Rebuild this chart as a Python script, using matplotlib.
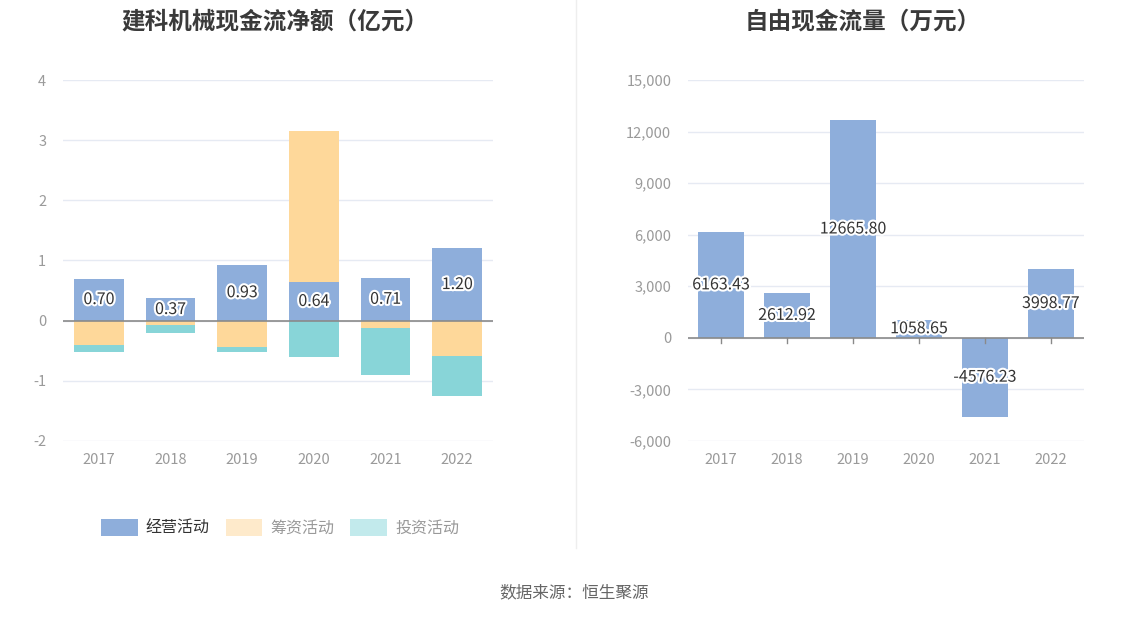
import numpy as np
import matplotlib.pyplot as plt
import matplotlib.patheffects as pe
from matplotlib.patches import Patch

plt.rcParams['font.family'] = ['Noto Sans CJK SC', 'DejaVu Sans']
plt.rcParams['axes.unicode_minus'] = False

# data
years = ["2017", "2018", "2019", "2020", "2021", "2022"]
operating = [0.70, 0.37, 0.93, 0.64, 0.71, 1.20]
financing = [-0.41, -0.07, -0.43, 2.52, -0.12, -0.58]
investing = [-0.11, -0.14, -0.09, -0.60, -0.79, -0.68]
free_cf = [6163.43, 2612.92, 12665.80, 1058.65, -4576.23, 3998.77]

c_op = "#8eaedb"
c_fin = "#fed89a"
c_inv = "#88d5d8"
grid_c = "#e6eaf3"
tick_c = "#9a9a9a"
outline = [pe.withStroke(linewidth=3, foreground="white")]

fig = plt.figure(figsize=(11.48, 6.19), dpi=100)

# left chart: stacked net cash flow
ax1 = fig.add_axes([63 / 1148, 1 - 441 / 619, 430 / 1148, 361 / 619])
x = np.arange(len(years))
w = 0.69
op = np.array(operating)
fin = np.array(financing)
inv = np.array(investing)
pos_base = np.where(op > 0, op, 0)
neg_base = np.where(op < 0, op, 0)
fin_bottom = np.where(fin >= 0, pos_base, neg_base)
pos_base = pos_base + np.where(fin > 0, fin, 0)
neg_base = neg_base + np.where(fin < 0, fin, 0)
inv_bottom = np.where(inv >= 0, pos_base, neg_base)

ax1.bar(x, op, w, color=c_op, zorder=2)
ax1.bar(x, fin, w, bottom=fin_bottom, color=c_fin, zorder=2)
ax1.bar(x, inv, w, bottom=inv_bottom, color=c_inv, zorder=2)
for xi, v in zip(x, op):
    ax1.text(xi, v / 2, f"{v:.2f}", ha="center", va="center", fontsize=11.5,
             color="#333333", path_effects=outline, zorder=4)

ax1.set_xlim(-0.5, 5.5)
ax1.set_ylim(-2, 4)
ax1.set_yticks(range(-2, 5))
ax1.set_xticks(x)
ax1.set_xticklabels(years)
ax1.axhline(0, color="#8a8a8a", linewidth=1.2, zorder=3)
ax1.grid(axis="y", color=grid_c, linewidth=1, zorder=0)
ax1.tick_params(length=0, colors=tick_c, labelsize=10.5)
ax1.tick_params(axis="x", pad=9)
ax1.tick_params(axis="y", pad=12)
for s in ax1.spines.values():
    s.set_visible(False)
ax1.set_title("建科机械现金流净额（亿元）", fontsize=17, fontweight="bold",
              color="#3a3a3a", x=(275 - 63) / 430, y=1, pad=37)

handles = [Patch(facecolor=c_op, edgecolor="none"),
           Patch(facecolor="#feeacb", edgecolor="none"),
           Patch(facecolor="#c2eaec", edgecolor="none")]
leg = fig.legend(handles, ["经营活动", "筹资活动", "投资活动"], loc="center",
                 bbox_to_anchor=(280 / 1148, 1 - 528 / 619), ncol=3, frameon=False,
                 fontsize=11.5, handlelength=2.3, handleheight=1.2, columnspacing=1.0,
                 handletextpad=0.5)
for t, c in zip(leg.get_texts(), ["#333333", "#999999", "#999999"]):
    t.set_color(c)

# right chart: free cash flow
ax2 = fig.add_axes([688 / 1148, 1 - 441 / 619, 396 / 1148, 361 / 619])
ax2.bar(x, free_cf, w, color=c_op, zorder=2)
for xi, v in zip(x, free_cf):
    ax2.text(xi, v / 2, f"{v:.2f}", ha="center", va="center", fontsize=11.5,
             color="#333333", path_effects=outline, zorder=4)
ax2.set_xlim(-0.5, 5.5)
ax2.set_ylim(-6000, 15000)
ax2.set_yticks(range(-6000, 15001, 3000))
ax2.set_yticklabels([f"{v:,}" for v in range(-6000, 15001, 3000)])
ax2.set_xticks(x)
ax2.set_xticklabels(years)
ax2.axhline(0, color="#8a8a8a", linewidth=1.2, zorder=3)
for xi in x:
    ax2.plot([xi, xi], [0, -300], color="#8a8a8a", linewidth=1, zorder=3)
ax2.grid(axis="y", color=grid_c, linewidth=1, zorder=0)
ax2.tick_params(length=0, colors=tick_c, labelsize=10.5)
ax2.tick_params(axis="x", pad=9)
ax2.tick_params(axis="y", pad=12)
for s in ax2.spines.values():
    s.set_visible(False)
ax2.set_title("自由现金流量（万元）", fontsize=17, fontweight="bold",
              color="#3a3a3a", x=(863 - 688) / 396, y=1, pad=37)

# separator and source
fig.add_artist(plt.Line2D([576 / 1148, 576 / 1148], [1 - 548 / 619, 1], color="#eeeeee",
                          linewidth=1))
fig.text(574 / 1148, 1 - 593 / 619, "数据来源：恒生聚源", ha="center", va="center",
         fontsize=12, color="#666666")

fig.savefig("out.png", dpi=100)
